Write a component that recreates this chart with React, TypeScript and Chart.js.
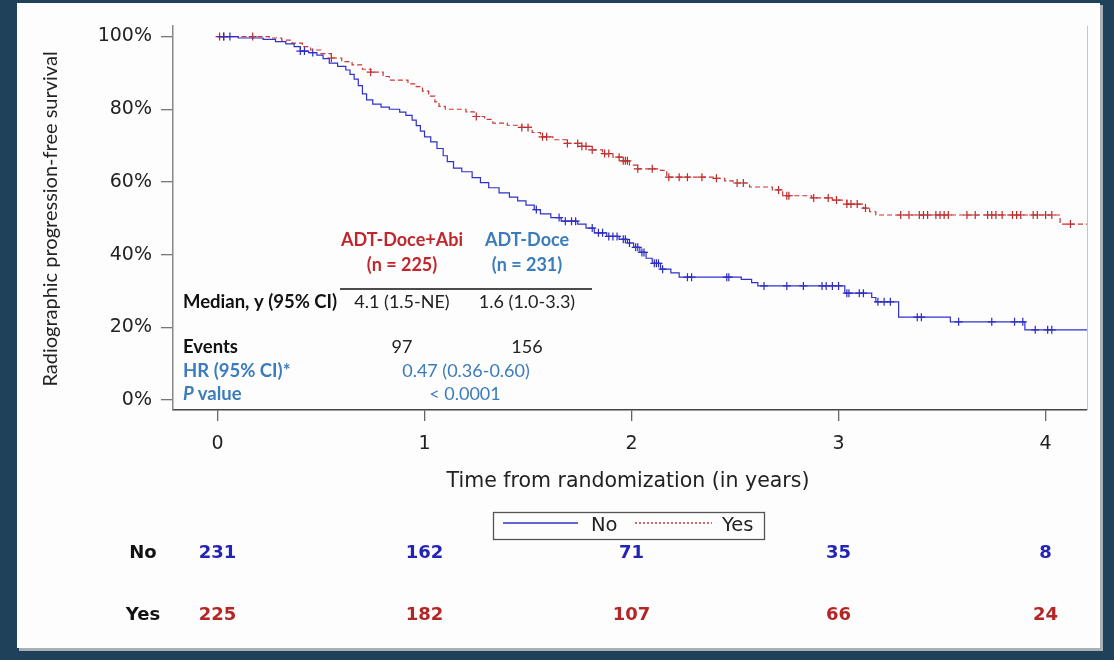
import { useEffect, useRef } from "react";
import { Chart, registerables } from "chart.js";

Chart.register(...registerables);

// ---------- data ----------
const xTicks = [0, 1, 2, 3, 4];
const yTicks = [0, 20, 40, 60, 80, 100];
const seriesNames = ["No", "Yes"];

// Kaplan-Meier step points [years, survival %]
const noCurve: [number, number][] = [
  [0, 100], [0.1, 99.6], [0.22, 99.2], [0.28, 98.6], [0.33, 98.0], [0.37, 97.2], [0.4, 96.0],
  [0.44, 95.6], [0.48, 94.9], [0.51, 93.9], [0.54, 92.7], [0.58, 91.8], [0.62, 90.8], [0.64, 89.6],
  [0.66, 88.3], [0.68, 86.5], [0.7, 84.2], [0.72, 82.6], [0.75, 81.4], [0.79, 80.6], [0.83, 80.0],
  [0.88, 79.2], [0.91, 78.3], [0.94, 77.0], [0.96, 75.5], [0.98, 74.0], [1.0, 72.4], [1.03, 71.0],
  [1.06, 69.2], [1.09, 67.2], [1.11, 65.6], [1.14, 63.8], [1.18, 62.8], [1.23, 61.2], [1.27, 59.8],
  [1.31, 58.4], [1.36, 57.0], [1.41, 55.8], [1.45, 54.8], [1.49, 53.6], [1.53, 52.4], [1.56, 51.2],
  [1.61, 50.2], [1.66, 49.2], [1.74, 48.4], [1.78, 47.3], [1.82, 46.0], [1.88, 45.0], [1.94, 44.2],
  [1.98, 43.2], [2.01, 42.0], [2.04, 40.6], [2.07, 39.0], [2.1, 37.6], [2.14, 36.0], [2.19, 35.0],
  [2.23, 33.8], [2.53, 33.2], [2.58, 32.3], [2.61, 31.4], [3.03, 29.4], [3.16, 28.2], [3.18, 27.0],
  [3.29, 22.8], [3.54, 21.5], [3.9, 19.3], [4.2, 19.3],
];

const yesCurve: [number, number][] = [
  [0, 100], [0.25, 99.6], [0.31, 99.0], [0.36, 98.2], [0.41, 97.2], [0.45, 96.3], [0.5, 95.3],
  [0.55, 94.1], [0.6, 93.1], [0.65, 92.2], [0.7, 91.0], [0.74, 90.2], [0.8, 89.0], [0.83, 88.0],
  [0.92, 87.0], [0.96, 86.2], [0.99, 85.0], [1.02, 83.6], [1.05, 82.0], [1.07, 80.8], [1.1, 80.0],
  [1.2, 79.3], [1.24, 78.0], [1.29, 77.2], [1.33, 76.2], [1.4, 75.6], [1.47, 75.0], [1.52, 73.6],
  [1.56, 72.4], [1.62, 71.6], [1.69, 70.6], [1.75, 69.8], [1.81, 68.8], [1.86, 67.8], [1.91, 66.8],
  [1.95, 65.8], [1.99, 64.6], [2.03, 63.6], [2.14, 63.2], [2.17, 61.3], [2.41, 61.0], [2.45, 60.3],
  [2.49, 59.7], [2.57, 58.6], [2.68, 57.8], [2.73, 56.2], [2.87, 55.6], [2.97, 55.0], [3.04, 53.9],
  [3.12, 52.8], [3.15, 51.8], [3.18, 50.9], [4.07, 48.4], [4.2, 48.4],
];

// censored observations [years, survival %]
const noCensored: [number, number][] = [
  [0.03, 100], [0.06, 100], [0.4, 96.0], [0.42, 96.0], [0.46, 95.6],
  [1.54, 52.4], [1.65, 50.2], [1.68, 49.2], [1.71, 49.2], [1.73, 49.2],
  [1.81, 47.3], [1.84, 46.0], [1.86, 46.0], [1.89, 45.0], [1.91, 45.0], [1.93, 45.0], [1.96, 44.2],
  [1.97, 44.2], [1.99, 43.2], [2.02, 42.0], [2.03, 42.0], [2.05, 40.6], [2.06, 40.6],
  [2.11, 37.6], [2.12, 37.6], [2.13, 37.6], [2.15, 36.0],
  [2.27, 33.8], [2.29, 33.8], [2.46, 33.8], [2.47, 33.8],
  [2.64, 31.4], [2.75, 31.4], [2.83, 31.4], [2.92, 31.4], [2.94, 31.4], [2.97, 31.4], [3.0, 31.4],
  [3.04, 29.4], [3.05, 29.4], [3.1, 29.4], [3.12, 29.4],
  [3.19, 27.0], [3.22, 27.0], [3.25, 27.0],
  [3.38, 22.8], [3.4, 22.8], [3.58, 21.5], [3.74, 21.5], [3.85, 21.5], [3.89, 21.5],
  [3.95, 19.3], [4.01, 19.3], [4.03, 19.3],
];

const yesCensored: [number, number][] = [
  [0.01, 100], [0.03, 100], [0.17, 100], [0.55, 94.1], [0.74, 90.2],
  [1.25, 78.0], [1.47, 75.0], [1.5, 75.0], [1.57, 72.4], [1.59, 72.4], [1.69, 70.6], [1.74, 70.6],
  [1.76, 69.8], [1.78, 69.8], [1.81, 68.8], [1.87, 67.8], [1.89, 67.8], [1.94, 66.8], [1.96, 65.8],
  [1.97, 65.8], [1.98, 65.8], [2.03, 63.6], [2.1, 63.6], [2.18, 61.3], [2.23, 61.3], [2.27, 61.3],
  [2.34, 61.3], [2.41, 61.0], [2.51, 59.7], [2.54, 59.7], [2.71, 57.8], [2.75, 56.2], [2.76, 56.2],
  [2.88, 55.6], [2.95, 55.6], [2.99, 55.0], [3.04, 53.9], [3.06, 53.9], [3.09, 53.9], [3.13, 52.8],
  [3.3, 50.9], [3.34, 50.9], [3.39, 50.9], [3.41, 50.9], [3.43, 50.9], [3.47, 50.9], [3.49, 50.9],
  [3.51, 50.9], [3.53, 50.9], [3.62, 50.9], [3.66, 50.9], [3.72, 50.9], [3.74, 50.9], [3.76, 50.9],
  [3.79, 50.9], [3.84, 50.9], [3.86, 50.9], [3.88, 50.9], [3.94, 50.9], [3.96, 50.9], [4.0, 50.9],
  [4.03, 50.9], [4.12, 48.4],
];

// numbers at risk
const riskTimes = [0, 1, 2, 3, 4];
const riskNo = [231, 162, 71, 35, 8];
const riskYes = [225, 182, 107, 66, 24];

// summary table
const groupHeaders = ["ADT-Doce+Abi", "ADT-Doce"];
const groupNs = ["(n = 225)", "(n = 231)"];
const medians = ["4.1 (1.5-NE)", "1.6 (1.0-3.3)"];
const eventCounts = ["97", "156"];
const hrText = "0.47 (0.36-0.60)";
const pText = "< 0.0001";

const xTitle = "Time from randomization (in years)";
const yTitle = "Radiographic progression-free survival";

// ---------- styles ----------
const BLUE = "#3030cc";
const RED = "#cc3535";
const TITLE_RED = "#c0262c";
const STEEL = "#3b7cbc";
const W = 1114;
const H = 660;

const toXY = (arr: [number, number][]) => arr.map(([x, y]) => ({ x, y }));

const decorPlugin = {
  id: "decor",
  beforeDraw(chart: any) {
    const ctx = chart.ctx;
    ctx.save();
    ctx.fillStyle = "#1f425a";
    ctx.fillRect(0, 0, W, H);
    ctx.fillStyle = "#a8b0b6";
    ctx.fillRect(19, 5, 1084, 646);
    ctx.fillStyle = "#fdfdfd";
    ctx.fillRect(17, 3, 1083, 645);
    ctx.restore();
  },
  afterDraw(chart: any) {
    const ctx = chart.ctx;
    const area = chart.chartArea;
    const xs = chart.scales.x;
    ctx.save();

    // right frame line
    ctx.strokeStyle = "#c4c4c4";
    ctx.lineWidth = 1;
    ctx.beginPath();
    ctx.moveTo(area.right + 0.5, area.top);
    ctx.lineTo(area.right + 0.5, area.bottom);
    ctx.stroke();

    // y title
    ctx.save();
    ctx.translate(51, 219);
    ctx.rotate(-Math.PI / 2);
    ctx.fillStyle = "#222";
    ctx.font = "20px Lato";
    ctx.textAlign = "center";
    ctx.textBaseline = "middle";
    ctx.fillText(yTitle, 0, 0);
    ctx.restore();

    // x title
    ctx.fillStyle = "#222";
    ctx.font = "20.5px 'DejaVu Sans'";
    ctx.textAlign = "center";
    ctx.textBaseline = "middle";
    ctx.fillText(xTitle, 628, 482);

    // summary table
    const colX = [402, 527];
    ctx.font = "bold 18px Lato";
    ctx.textAlign = "center";
    [TITLE_RED, STEEL].forEach((c, i) => {
      ctx.fillStyle = c;
      ctx.fillText(groupHeaders[i], colX[i], 240);
      ctx.fillText(groupNs[i], colX[i], 265);
    });
    ctx.strokeStyle = "#111";
    ctx.lineWidth = 1.5;
    ctx.beginPath();
    ctx.moveTo(340, 289);
    ctx.lineTo(592, 289);
    ctx.stroke();

    ctx.textAlign = "left";
    ctx.fillStyle = "#111";
    ctx.font = "bold 18.5px Lato";
    ctx.fillText("Median, y (95% CI)", 183, 302);
    ctx.fillText("Events", 183, 347);
    ctx.fillStyle = STEEL;
    ctx.fillText("HR (95% CI)*", 183, 371);
    ctx.font = "italic bold 18.5px Lato";
    ctx.fillText("P", 183, 394);
    const pw = ctx.measureText("P ").width;
    ctx.font = "bold 18.5px Lato";
    ctx.fillText("value", 183 + pw, 394);

    ctx.textAlign = "center";
    ctx.font = "18px Lato";
    ctx.fillStyle = "#222";
    medians.forEach((m, i) => ctx.fillText(m, colX[i], 302));
    eventCounts.forEach((m, i) => ctx.fillText(m, colX[i], 347));
    ctx.fillStyle = STEEL;
    ctx.fillText(hrText, 466, 371);
    ctx.fillText(pText, 465, 394);

    // legend box
    ctx.strokeStyle = "#555";
    ctx.lineWidth = 1.3;
    ctx.strokeRect(493.5, 512.5, 271, 27);
    ctx.lineWidth = 1.3;
    ctx.strokeStyle = BLUE;
    ctx.beginPath();
    ctx.moveTo(503, 523);
    ctx.lineTo(578, 523);
    ctx.stroke();
    ctx.strokeStyle = RED;
    ctx.setLineDash([2, 2]);
    ctx.beginPath();
    ctx.moveTo(635, 523);
    ctx.lineTo(712, 523);
    ctx.stroke();
    ctx.setLineDash([]);
    ctx.fillStyle = "#222";
    ctx.font = "19.5px 'DejaVu Sans'";
    ctx.textAlign = "left";
    ctx.fillText(seriesNames[0], 591, 526);
    ctx.fillText(seriesNames[1], 722, 526);

    // numbers at risk
    ctx.font = "bold 18px 'DejaVu Sans'";
    ctx.textAlign = "center";
    ctx.fillStyle = "#111";
    ctx.fillText(seriesNames[0], 143, 553);
    ctx.fillText(seriesNames[1], 143, 615);
    riskTimes.forEach((t, i) => {
      const px = xs.getPixelForValue(t);
      ctx.fillStyle = "#2424b4";
      ctx.fillText(String(riskNo[i]), px, 553);
      ctx.fillStyle = "#b42626";
      ctx.fillText(String(riskYes[i]), px, 615);
    });
    ctx.restore();
  },
};

export default function App() {
  const ref = useRef<HTMLCanvasElement | null>(null);

  useEffect(() => {
    if (!ref.current) return;
    const chart = new Chart(ref.current, {
      type: "line",
      data: {
        datasets: [
          {
            label: seriesNames[0],
            data: toXY(noCurve),
            borderColor: BLUE,
            borderWidth: 1.2,
            stepped: "before",
            pointRadius: 0,
            fill: false,
          },
          {
            label: seriesNames[1],
            data: toXY(yesCurve),
            borderColor: RED,
            borderWidth: 1.2,
            borderDash: [5, 3],
            stepped: "before",
            pointRadius: 0,
            fill: false,
          },
          {
            label: seriesNames[0] + " censored",
            data: toXY(noCensored),
            showLine: false,
            pointStyle: "cross",
            pointRadius: 4,
            pointBorderWidth: 1.2,
            pointBorderColor: "#2a2ab8",
            borderColor: "#2a2ab8",
          },
          {
            label: seriesNames[1] + " censored",
            data: toXY(yesCensored),
            showLine: false,
            pointStyle: "cross",
            pointRadius: 4,
            pointBorderWidth: 1.2,
            pointBorderColor: "#b82a2a",
            borderColor: "#b82a2a",
          },
        ],
      },
      options: {
        animation: false,
        responsive: false,
        devicePixelRatio: 1,
        layout: { padding: { top: 26, right: 27, left: 0, bottom: 0 } },
        plugins: { legend: { display: false }, tooltip: { enabled: false } },
        scales: {
          x: {
            type: "linear",
            min: -0.215,
            max: 4.2,
            afterBuildTicks: (s: any) => {
              s.ticks = xTicks.map((v) => ({ value: v }));
            },
            afterFit: (s: any) => {
              s.height = 250;
            },
            ticks: {
              color: "#222",
              font: { family: "'DejaVu Sans'", size: 19 },
              padding: 12,
              maxRotation: 0,
            },
            grid: {
              display: true,
              drawOnChartArea: false,
              drawTicks: true,
              tickLength: 11,
              color: "#666",
              lineWidth: 1.3,
            },
            border: { display: true, color: "#444", width: 1.5 },
          },
          y: {
            type: "linear",
            min: -2.75,
            max: 102.9,
            afterBuildTicks: (s: any) => {
              s.ticks = yTicks.map((v) => ({ value: v }));
            },
            afterFit: (s: any) => {
              s.width = 173;
            },
            ticks: {
              color: "#222",
              font: { family: "'DejaVu Sans'", size: 19 },
              padding: 9,
              callback: (v: any) => v + "%",
            },
            grid: {
              display: true,
              drawOnChartArea: false,
              drawTicks: true,
              tickLength: 12,
              color: "#777",
              lineWidth: 1.3,
            },
            border: { display: true, color: "#888", width: 1.5 },
          },
        },
      },
      plugins: [decorPlugin],
    });
    return () => chart.destroy();
  }, []);

  return (
    <div style={{ position: "fixed", left: 0, top: 0, width: W, height: H }}>
      <canvas ref={ref} width={W} height={H} style={{ display: "block" }} />
    </div>
  );
}
